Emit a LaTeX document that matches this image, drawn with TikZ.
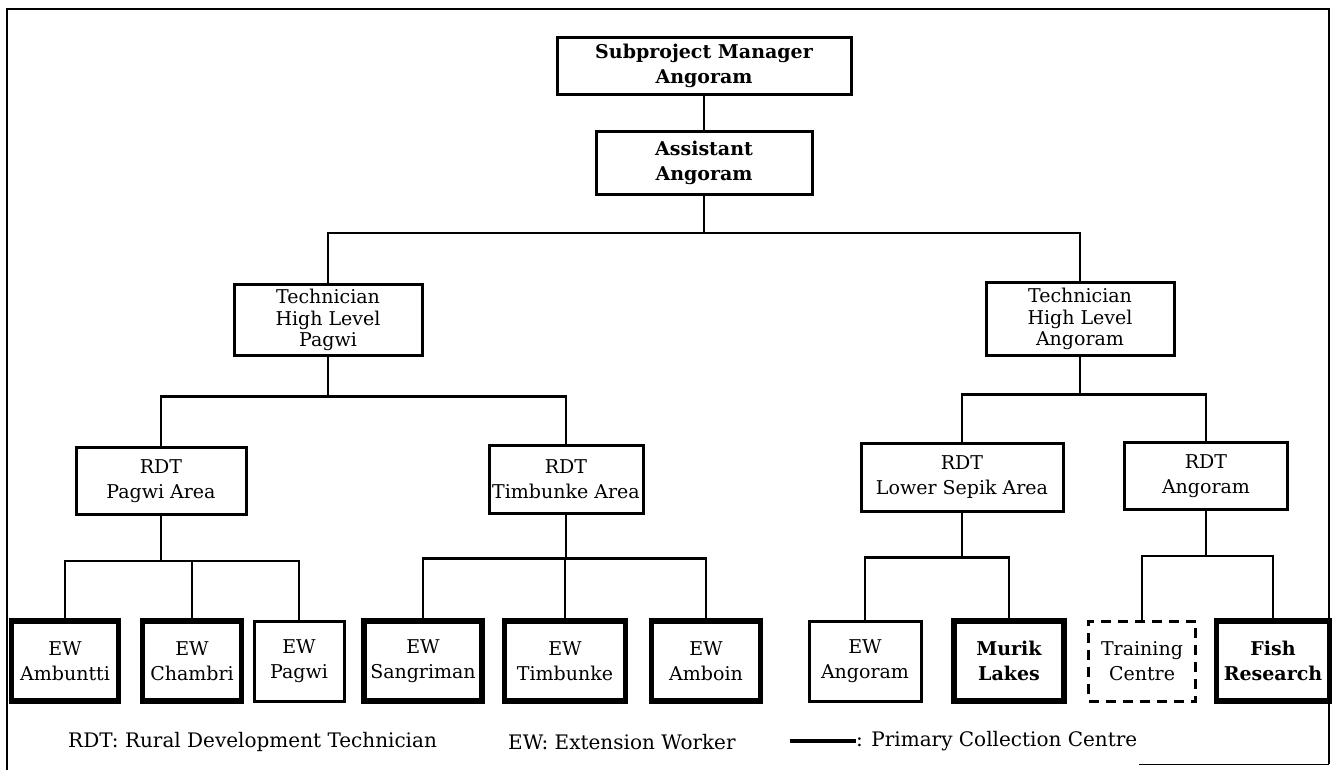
\documentclass[tikz,border=0pt]{standalone}
\usepackage{fontspec}
\setmainfont{DejaVu Serif}
\usetikzlibrary{positioning}
\tikzset{
  unit/.style={draw=black, line width=3pt, align=center, inner sep=1pt,
    font=\fontsize{19}{25}\selectfont},
  techbox/.style={unit, font=\fontsize{19}{21.5}\selectfont},
  headbox/.style={unit, font=\fontsize{19}{25}\selectfont\bfseries},
  ewbox/.style={unit, minimum height=80pt},
  pccbox/.style={ewbox, line width=5.5pt},
  newbox/.style={ewbox, dash pattern=on 10pt off 7pt},
  link/.style={line width=2.5pt},
  legend/.style={inner sep=0pt, anchor=west, font=\fontsize{20}{24}\selectfont}
}

\begin{document}
\begin{tikzpicture}[x=1pt,y=-1pt]
\useasboundingbox (0,0) rectangle (1334,770);
% frame
\draw[line width=2.5pt] (7,770) -- (7,9) -- (1329,9) -- (1329,764);
\draw[line width=1pt] (1329,764) -- (1139,764);

% top of the chart
\node[headbox, minimum width=294pt, minimum height=57pt] (mgr) at (704,66) {Subproject Manager\\Angoram};
\node[headbox, minimum width=216pt, minimum height=63pt] (asst) at (704,163) {Assistant\\Angoram};
\node[techbox, minimum width=188pt, minimum height=70pt] (tpag) at (328,320) {Technician\\High Level\\Pagwi};
\node[techbox, minimum width=188pt, minimum height=72pt] (tang) at (1080,319) {Technician\\High Level\\Angoram};

% RDT row
\node[unit, minimum width=170pt, minimum height=67pt] (rpag) at (161,481) {RDT\\Pagwi Area};
\node[unit, minimum width=154pt, minimum height=68pt] (rtim) at (566,479) {RDT\\Timbunke Area};
\node[unit, minimum width=202pt, minimum height=68pt] (rlow) at (962,477) {RDT\\Lower Sepik Area};
\node[unit, minimum width=163pt, minimum height=67pt] (rang) at (1206,476) {RDT\\Angoram};

% EW row
\foreach \n/\x/\w/\s/\t in {amb/65/107/pccbox/{EW\\Ambuntti}, cha/192/99/pccbox/{EW\\Chambri},
    pag/299/90/ewbox/{EW\\Pagwi}, san/423/118/pccbox/{EW\\Sangriman},
    tim/565/121/pccbox/{EW\\Timbunke}, abn/706/109/pccbox/{EW\\Amboin},
    ang/865/112/ewbox/{EW\\Angoram}, mur/1009/110/pccbox/{\bfseries Murik\\\bfseries Lakes},
    trn/1142/107/newbox/{Training\\Centre}, fsh/1273/113/pccbox/{\bfseries Fish\\\bfseries Research}}{
\node[\s, minimum width=\w pt] (\n) at (\x,661) {\t};
}

% connectors
\draw[link] (mgr.south) -- (asst.north);
\draw[link] (asst.south) -- ++(0,37) coordinate (bus1);
\draw[link] (tpag.north) |- (bus1) -| (tang.north);
\draw[link] (tpag.south) -- ++(0,40) coordinate (bus2a);
\draw[link] (rpag.north) |- (bus2a) -| (rtim.north);
\draw[link] (tang.south) -- ++(0,38) coordinate (bus2b);
\draw[link] (rlow.north) |- (bus2b) -| (rang.north);
\draw[link] (rpag.south) -- ++(0,45) coordinate (bus3a);
\draw[link] (amb.north) |- (bus3a) -| (pag.north);
\draw[link] (cha.north) -- (cha.north |- bus3a);
\draw[link] (rtim.south) -- ++(0,44) coordinate (bus3b);
\draw[link] (san.north) |- (bus3b) -| (abn.north);
\draw[link] (tim.north) -- (tim.north |- bus3b);
\draw[link] (rlow.south) -- ++(0,45) coordinate (bus3c);
\draw[link] (ang.north) |- (bus3c) -| (mur.north);
\draw[link] (rang.south) -- ++(0,45) coordinate (bus3d);
\draw[link] (trn.north) |- (bus3d) -| (fsh.north);

% legend
\node[legend] (lrdt) at (68,742) {RDT: Rural Development Technician};
\node[legend] (lew) at (508,742) {EW: Extension Worker};
\coordinate (lkey) at (790,741);
\draw[line width=4pt] (lkey) -- ++(66,0) coordinate (lkeyend);
\node[legend] (lpcc) at (lkeyend) {: Primary Collection Centre};
\end{tikzpicture}
\end{document}
